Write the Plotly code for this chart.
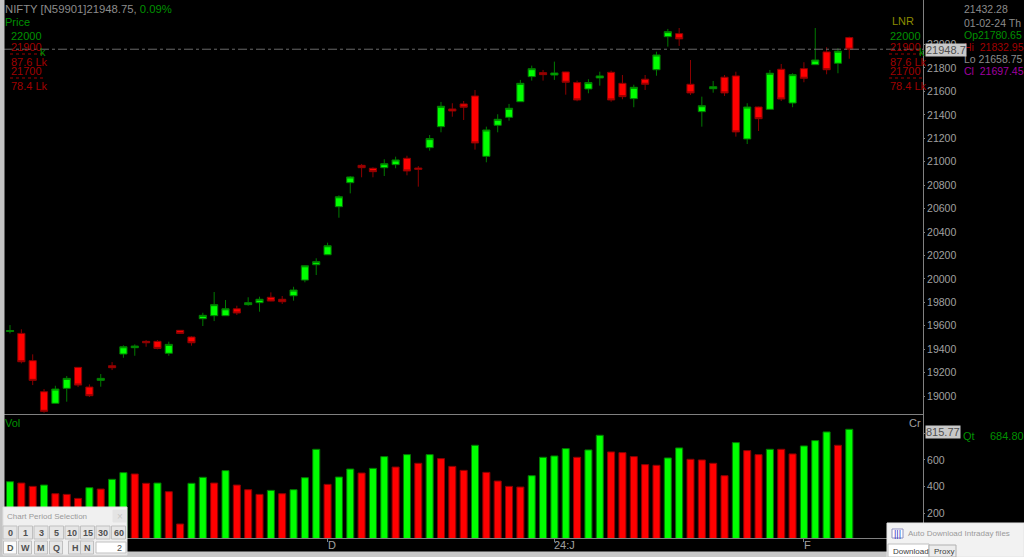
import plotly.graph_objects as go
from plotly.subplots import make_subplots

# Daily candles
opens = [19551, 19535, 19302, 19037, 18938, 19066, 19245, 19077, 19134, 19259,
         19359, 19413, 19467, 19467, 19365, 19561, 19504, 19660, 19686, 19686,
         19745, 19780, 19797, 19843, 19826, 19856, 19990, 20121, 20206, 20616,
         20821, 20969, 20944, 20949, 20975, 21029, 20946, 21120, 21299, 21450,
         21493, 21561, 21046, 21311, 21379, 21512, 21726, 21760, 21740, 21766,
         21675, 21621, 21715, 21763, 21669, 21538, 21704, 21785, 22067, 22093,
         21661, 21427, 21623, 21721, 21732, 21194, 21467, 21447, 21789, 21501,
         21794, 21828, 21937, 21840, 22059]
closes = [19559, 19293, 19134, 18870, 19060, 19151, 19094, 19003, 19151, 19242,
          19421, 19427, 19455, 19407, 19441, 19535, 19455, 19689, 19780, 19745,
          19709, 19797, 19826, 19811, 19805, 19905, 20112, 20147, 20283, 20701,
          20870, 20949, 20915, 20983, 21015, 20921, 20935, 21197, 21473, 21433,
          21465, 21160, 21271, 21362, 21456, 21669, 21794, 21743, 21757, 21678,
          21527, 21675, 21732, 21527, 21555, 21635, 21661, 21911, 22110, 22048,
          21587, 21478, 21640, 21587, 21254, 21467, 21367, 21755, 21535, 21743,
          21712, 21868, 21785, 21943, 21960]
highs = [19606, 19570, 19356, 19060, 19088, 19171, 19248, 19100, 19188, 19290,
         19433, 19441, 19478, 19478, 19464, 19564, 19510, 19711, 19888, 19820,
         19771, 19843, 19848, 19885, 19854, 19933, 20116, 20176, 20309, 20713,
         20878, 20981, 20952, 21021, 21043, 21051, 20963, 21228, 21510, 21499,
         21518, 21612, 21299, 21405, 21493, 21698, 21820, 21783, 21854, 21768,
         21692, 21704, 21768, 21777, 21740, 21657, 21740, 21939, 22133, 22141,
         21868, 21555, 21689, 21740, 21768, 21499, 21470, 21783, 21834, 21755,
         21849, 22141, 21977, 21968, 22067]
lows = [19535, 19279, 19094, 18858, 18936, 18952, 19077, 18992, 19080, 19222,
        19327, 19344, 19421, 19399, 19344, 19533, 19430, 19598, 19640, 19683,
        19692, 19771, 19720, 19809, 19786, 19814, 19971, 20033, 20204, 20522,
        20730, 20867, 20867, 20878, 20944, 20884, 20787, 21094, 21251, 21384,
        21356, 21103, 20995, 21251, 21350, 21510, 21692, 21692, 21698, 21572,
        21516, 21584, 21649, 21512, 21533, 21465, 21612, 21734, 21982, 21988,
        21570, 21299, 21589, 21561, 21214, 21151, 21262, 21446, 21518, 21465,
        21678, 21826, 21746, 21755, 21879]

# Volume bars have their own up/down flag, it does not follow the candle
volumes = [437, 427, 402, 412, 347, 342, 312, 392, 382, 455,
           505, 495, 425, 427, 362, 120, 425, 470, 427, 520,
           412, 377, 342, 372, 347, 377, 467, 680, 417, 472,
           532, 502, 537, 625, 547, 640, 575, 640, 610, 552,
           522, 710, 507, 442, 402, 397, 482, 620, 630, 685,
           620, 675, 785, 660, 655, 625, 565, 560, 615, 690,
           605, 600, 575, 482, 730, 670, 640, 680, 680, 645,
           705, 745, 810, 710, 830]
vol_up = [1, 0, 0, 1, 0, 0, 0, 1, 0, 1,
          1, 0, 0, 1, 0, 0, 1, 1, 0, 1,
          0, 0, 0, 1, 0, 1, 1, 1, 0, 1,
          1, 0, 1, 1, 0, 1, 0, 1, 0, 0,
          0, 1, 0, 0, 0, 0, 1, 1, 1, 1,
          0, 1, 1, 0, 0, 0, 0, 0, 1, 1,
          0, 0, 0, 0, 1, 0, 0, 1, 0, 0,
          1, 1, 1, 0, 1]

price_ticks = [19000, 19200, 19400, 19600, 19800, 20000, 20200, 20400, 20600,
               20800, 21000, 21200, 21400, 21600, 21800, 22000]
vol_ticks = [200, 400, 600, 800]
date_ticks = [28, 48, 70]
date_labels = ["D", "24:J", "F"]
period_row1 = ["0", "1", "3", "5", "10", "15", "30", "60"]
period_row2 = ["D", "W", "M", "Q", "H", "N"]

W, H = 1024, 557
GREEN, RED = "#00ff00", "#ff0000"
DARK_GREEN, DARK_RED = "#007a00", "#8b0000"
GREY = "#a0a0a0"
TEXT_GREEN, TEXT_RED = "#009000", "#a00000"
FONT = "Liberation Sans"

days = list(range(len(closes)))

fig = make_subplots(rows=2, cols=1, shared_xaxes=True)

fig.add_trace(
    go.Candlestick(
        x=days,
        open=opens,
        high=highs,
        low=lows,
        close=closes,
        increasing=dict(fillcolor=GREEN, line=dict(color=DARK_GREEN, width=1)),
        decreasing=dict(fillcolor=RED, line=dict(color=DARK_RED, width=1)),
        whiskerwidth=0,
        showlegend=False,
    ),
    row=1,
    col=1,
)
fig.add_trace(
    go.Bar(
        x=days,
        y=volumes,
        width=0.62,
        marker=dict(
            color=[GREEN if up else RED for up in vol_up],
            line=dict(color=[DARK_GREEN if up else DARK_RED for up in vol_up], width=1),
        ),
        showlegend=False,
    ),
    row=2,
    col=1,
)

fig.update_layout(
    width=W,
    height=H,
    margin=dict(l=0, r=0, t=0, b=0),
    paper_bgcolor="#000000",
    plot_bgcolor="#000000",
    font=dict(family=FONT, size=11, color=GREY),
    showlegend=False,
    boxgap=0.1,
    xaxis=dict(
        domain=[4 / W, 923 / W],
        range=[-0.53, 80.5],
        rangeslider=dict(visible=False),
        showgrid=False,
        showticklabels=False,
        showline=True,
        linecolor="#808080",
        zeroline=False,
        ticks="",
    ),
    xaxis2=dict(
        domain=[4 / W, 923 / W],
        range=[-0.53, 80.5],
        showgrid=False,
        showline=True,
        linecolor="#808080",
        zeroline=False,
        tickvals=date_ticks,
        ticktext=["", "", ""],
        ticks="outside",
        ticklen=3,
        tickcolor="#808080",
    ),
    yaxis=dict(
        domain=[1 - 414 / H, 1],
        range=[18847, 22380],
        side="right",
        showgrid=False,
        zeroline=False,
        showline=True,
        linecolor="#808080",
        tickvals=price_ticks,
        ticks="outside",
        ticklen=1,
        tickcolor="#808080",
        tickformat="d",
        tickfont=dict(size=10.5, color=GREY),
    ),
    yaxis2=dict(
        domain=[1 - 538 / H, 1 - 415 / H],
        range=[15, 937],
        side="right",
        showgrid=False,
        zeroline=False,
        showline=True,
        linecolor="#808080",
        tickvals=vol_ticks,
        ticks="outside",
        ticklen=1,
        tickcolor="#808080",
        tickfont=dict(size=10.5, color=GREY),
    ),
)


def note(x, y, text, color=GREY, size=11, anchor="left", bg=None):
    # x, y in screen pixels from the top left corner
    fig.add_annotation(
        xref="paper", yref="paper", x=x / W, y=1 - y / H,
        text=text, showarrow=False, xanchor=anchor, yanchor="middle",
        font=dict(family=FONT, size=size, color=color),
        bgcolor=bg, borderpad=0,
    )


def box(x0, y0, x1, y1, fill, line=None):
    fig.add_shape(
        type="rect", xref="paper", yref="paper",
        x0=x0 / W, x1=x1 / W, y0=1 - y0 / H, y1=1 - y1 / H,
        fillcolor=fill, line=dict(color=line or fill, width=1),
        layer="above",
    )


# Last price line
fig.add_shape(
    type="line", xref="x", yref="y", x0=-0.53, x1=80.5, y0=closes[-1], y1=closes[-1],
    line=dict(color="#6a6a6a", width=1, dash="dashdot"),
)

# Window frame
box(0, 0, 4, H, "#c4c4c4")
box(0, 552, W, H, "#c8c8c8")

# Header texts
note(4, 9, 'NIFTY [N59901]21948.75, <span style="color:#009000">0.09%</span>', "#8c8c8c", 11.3)
note(4, 22, "Price", TEXT_GREEN)
note(903, 21, "LNR", "#8c8c00", anchor="center")

# Alert levels, drawn on both sides of the chart
for left in (10, 889):
    note(left, 36, "22000", TEXT_GREEN)
    note(left, 62, "87.6 Lk", TEXT_RED)
    note(left, 47, "21900", TEXT_RED)
    note(left + 29, 52, "k", TEXT_GREEN)
    note(left, 71, "21700", TEXT_RED)
    note(left, 86, "78.4 Lk", TEXT_RED)
    for y in (54, 78):
        fig.add_shape(
            type="line", xref="paper", yref="paper",
            x0=left / W, x1=(left + 35) / W, y0=1 - y / H, y1=1 - y / H,
            line=dict(color="#a00000", width=1, dash="dot"),
        )

# Info column on the right
note(963, 9, "21432.28", "#8c8c8c", 10.5)
note(963, 23, "01-02-24 Th", "#8c8c8c", 10.5)
note(963, 35, "Op21780.65", TEXT_GREEN, 10.5)
note(963, 47, "Hi  21832.95", TEXT_RED, 10.5)
note(963, 59, "Lo 21658.75", "#8c8c8c", 10.5)
note(963, 71, "Cl  21697.45", "#a000a0", 10.5)
note(925, 50.5, "21948.7", "#505050", 11, bg="#c8c8c8")

# Volume pane texts
note(4, 423, "Vol", TEXT_GREEN)
note(908, 423, "Cr", GREY)
note(925, 432, "815.77", "#505050", 11, bg="#c8c8c8")
note(962, 436, "Qt", TEXT_GREEN, 11)
note(989, 436, "684.80", TEXT_GREEN, 11)

# Date labels sit just right of their tick
for day, label in zip(date_ticks, date_labels):
    fig.add_annotation(
        xref="x2", yref="paper", x=day, y=1 - 545 / H, text=label, showarrow=False,
        xanchor="left", yanchor="middle", xshift=-2,
        font=dict(family=FONT, size=11, color=GREY),
    )

# Chart Period Selection window
box(3, 507, 127, 555, "#f0f0f0", "#e0e0e0")
box(113, 510, 126, 522, "#e4e4e4")
note(6, 516, "Chart Period Selection", "#9a9a9a", 8)
note(120, 516, "×", "#c8c8c8", 10, anchor="center")
for i, label in enumerate(period_row1):
    cx = 10 + i * 15.5
    box(cx - 7, 526, cx + 7, 539, "#e6e6e6", "#c0c0c0")
    note(cx, 532.5, f"<b>{label}</b>", "#505050", 9, anchor="center")
for cx, label in zip([10, 25, 41, 56, 75, 87], period_row2):
    box(cx - 6.5, 541, cx + 6.5, 554, "#fbfbfb" if label == "D" else "#e6e6e6", "#c0c0c0")
    note(cx, 547.5, f"<b>{label}</b>", "#505050", 9, anchor="center")
box(96, 542, 126, 553, "#ffffff", "#c0c0c0")
note(123, 547.5, "2", "#505050", 9, anchor="right")

# Download window
box(887, 523, W, H, "#f2f2f2", "#e4e4e4")
box(892, 529, 903, 538, "#ffffff", "#9090c0")
note(893, 533.5, "|||", "#3030c0", 9)
note(907, 533, "Auto Download Intraday files", "#9a9a9a", 8)
box(888, 544, 929, H, "#ffffff", "#c0c0c0")
box(929, 545, 956, H, "#ececec", "#b0b0b0")
note(892, 551, "Download", "#404040", 8)
note(933, 551, "Proxy", "#404040", 8)

# The page's default body margin would push the chart 8px off
fig.write_html(
    "out.html",
    config={"displayModeBar": False},
    post_script="document.body.style.margin = '0';",
)
